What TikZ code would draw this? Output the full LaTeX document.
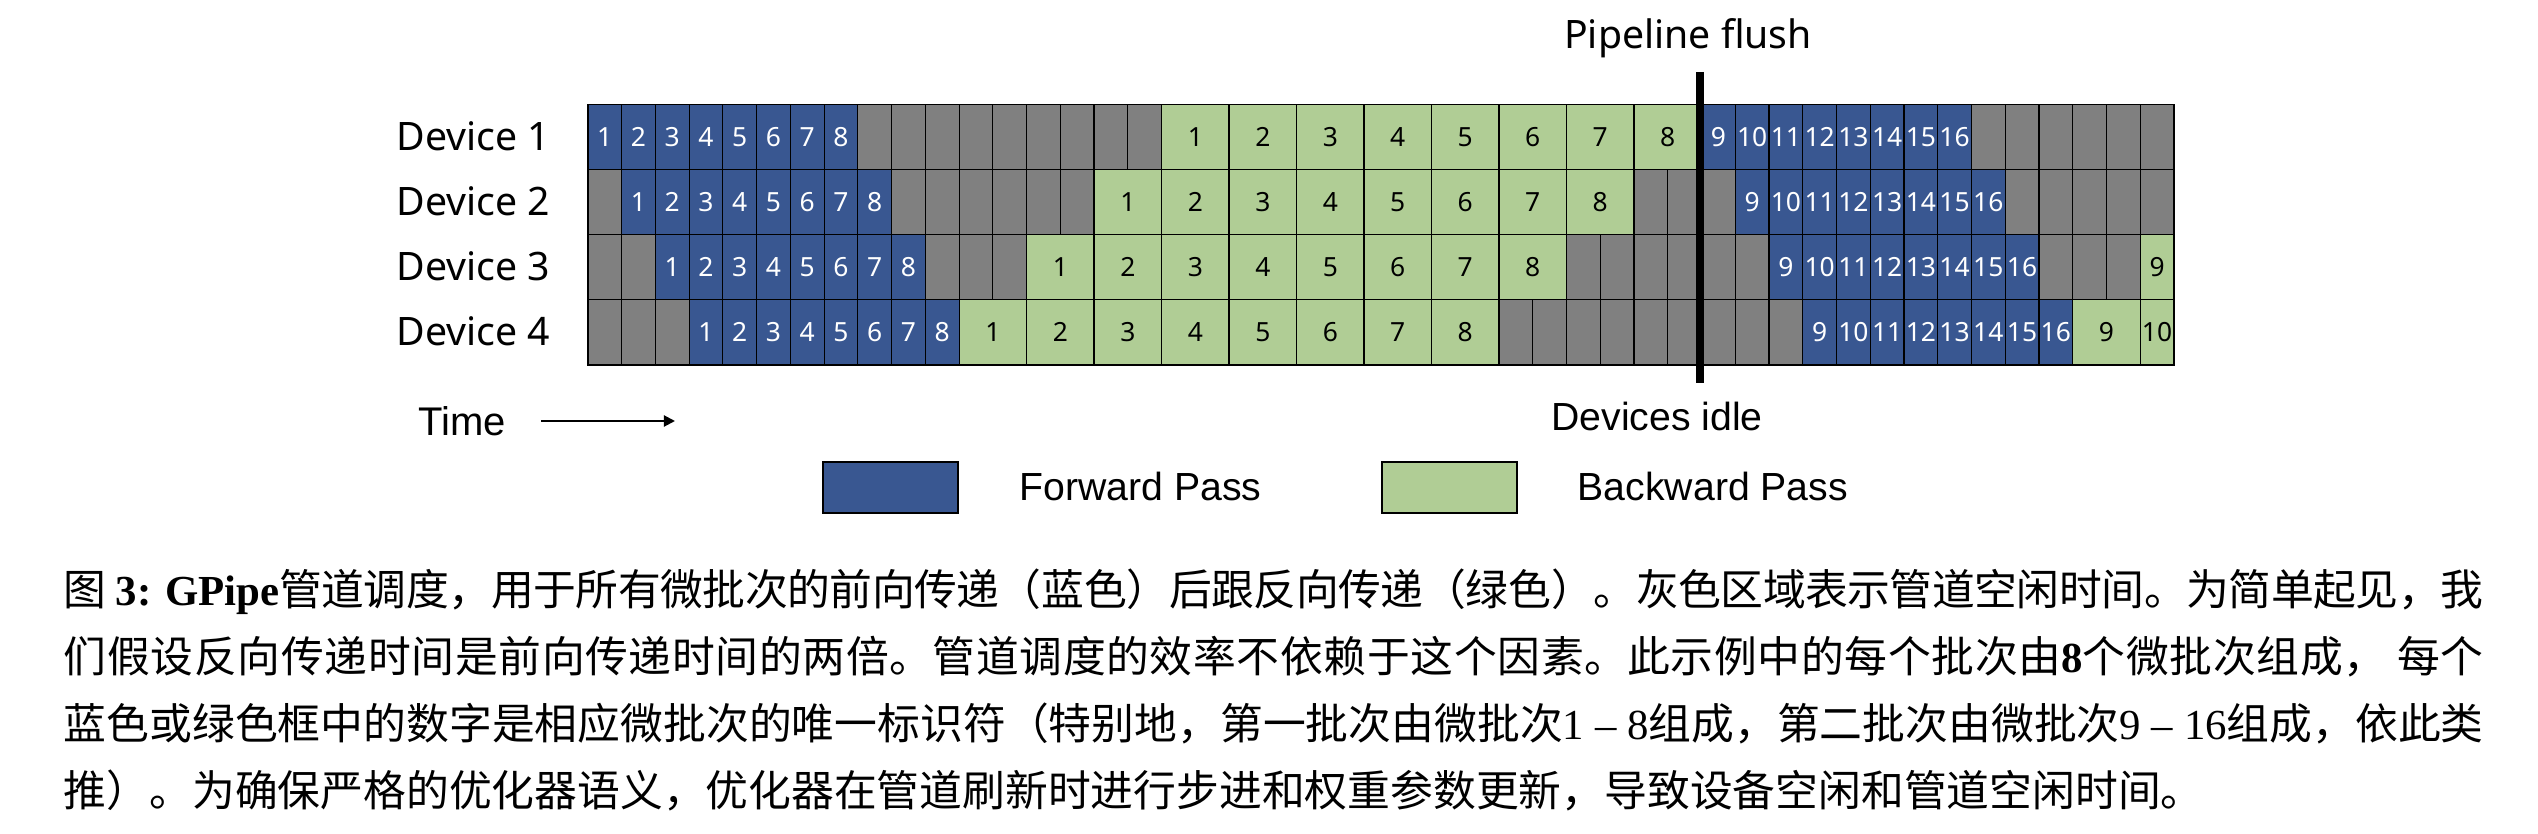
\documentclass[tikz,border=0pt]{standalone}
\usepackage{fontspec}
\setmainfont{Liberation Serif}
\newfontfamily\cjk{Noto Sans CJK SC}
\newfontfamily\notosans{Noto Sans}
\newfontfamily\arialsans{Liberation Sans}
\usetikzlibrary{arrows.meta}
\XeTeXlinebreaklocale "zh"
\XeTeXlinebreakskip=0pt plus 1pt minus 0.3pt

\definecolor{fwdblue}{RGB}{57,87,145}
\definecolor{bwdgreen}{RGB}{176,205,149}
\definecolor{idlegray}{RGB}{128,128,128}

% Linea de pie justificada a todo el ancho
\newcommand{\capfull}[1]{\parbox[b]{605pt}{\parfillskip=0pt\relax #1}}

\tikzset{
  cell/.style={draw=black, line width=0.3pt, inner sep=0pt, anchor=north west,
    minimum height=16.25pt, minimum width=8.436pt,
    font=\notosans\fontsize{6.6}{7}\selectfont},
  idle/.style={cell, fill=idlegray},
  fwd/.style={cell, fill=fwdblue, text=white},
  bwd/.style={cell, fill=bwdgreen, minimum width=16.872pt},
  bwdcut/.style={cell, fill=bwdgreen},
  devlabel/.style={anchor=base west, inner sep=0pt, font=\notosans\fontsize{9.8}{11}\selectfont},
  plaintext/.style={anchor=base, inner sep=0pt, font=\arialsans\fontsize{9.8}{11}\selectfont},
  legbox/.style={draw=black, line width=0.6pt, minimum width=33.75pt, minimum height=12.75pt, inner sep=0pt},
  capline/.style={anchor=base west, inner sep=0pt, font=\fontsize{10.7}{12}\selectfont},
}

\begin{document}
\begin{tikzpicture}[x=0.25pt, y=-0.25pt]
\useasboundingbox (0,0) rectangle (2538,834);

% Etiquetas de dispositivos
\foreach \r in {1,...,4}
  \node[devlabel] (dev\r) at (396,{150.7+65*(\r-1)}) {Device \r};

% Fondo: celdas inactivas
\foreach \r in {1,...,4}
  \foreach \c in {0,...,46}
    \node[idle] (g\r-\c) at ({587.3+33.745*\c},{104.3+65*(\r-1)}) {};

% Pasadas hacia adelante (lotes 1 y 2)
\foreach \r in {1,...,4}
  \foreach \k in {1,...,16}{
    \pgfmathtruncatemacro\c{\k<9 ? \r+\k-2 : \r+\k+23}
    \node[fwd] (f\r-\k) at ({587.3+33.745*\c},{104.3+65*(\r-1)}) {\k};
  }

% Pasadas hacia atras (lote 1)
\foreach \r in {1,...,4}
  \foreach \k in {1,...,8}{
    \pgfmathtruncatemacro\c{17-2*\r+2*\k}
    \node[bwd] (b\r-\k) at ({587.3+33.745*\c},{104.3+65*(\r-1)}) {\k};
  }

% Pasadas hacia atras (lote 2, cortadas)
\node[bwd] (b4-9) at ({587.3+33.745*44},299.3) {9};
\node[bwdcut] (b4-10) at ({587.3+33.745*46},299.3) {10};
\node[bwdcut] (b3-9) at ({587.3+33.745*46},234.3) {9};

% Vaciado del pipeline
\coordinate (flushtop) at (1700,72);
\coordinate (flushbot) at (1700,383);
\draw[line width=2pt] (flushtop) -- (flushbot);
\node[devlabel, anchor=base] (flush) at (1688,48.3) {Pipeline flush};
\node[plaintext] (idletxt) at (1657,430) {Devices idle};

% Eje del tiempo
\node[plaintext, anchor=base west, font=\arialsans\fontsize{10}{11}\selectfont] (time) at (418,435) {Time};
\coordinate (tstart) at (541,421);
\coordinate (tend) at (675,421);
\draw[line width=0.5pt, -{Triangle[length=2.8pt,width=2.8pt]}] (tstart) -- (tend);

% Leyenda
\node[legbox, fill=fwdblue] (legfwd) at (890.5,487.5) {};
\node[plaintext, anchor=base west] (legfwdtxt) at (1019,500) {Forward Pass};
\node[legbox, fill=bwdgreen] (legbwd) at (1449.5,487.5) {};
\node[plaintext, anchor=base west] (legbwdtxt) at (1577,500) {Backward Pass};

% Pie de figura
\node[capline] (cap1) at (63,605) {\capfull{{\cjk 图} \textbf{3: GPipe}{\cjk 管道调度，用于所有微批次的前向传递（蓝色）后跟反向传递（绿色）。灰色区域表示管道空闲时间。为简单起见，我}}};
\node[capline] (cap2) at (63,672) {\capfull{{\cjk 们假设反向传递时间是前向传递时间的两倍。管道调度的效率不依赖于这个因素。此示例中的每个批次由}\textbf{8}{\cjk 个微批次组成，} {\cjk 每个}}};
\node[capline] (cap3) at (63,739) {\capfull{{\cjk 蓝色或绿色框中的数字是相应微批次的唯一标识符（特别地，第一批次由微批次}1 – 8{\cjk 组成，第二批次由微批次}9 – 16{\cjk 组成，依此类}}};
\node[capline] (cap4) at (63,806) {{\cjk 推）。为确保严格的优化器语义，优化器在管道刷新时进行步进和权重参数更新，导致设备空闲和管道空闲时间。}};

\end{tikzpicture}
\end{document}
